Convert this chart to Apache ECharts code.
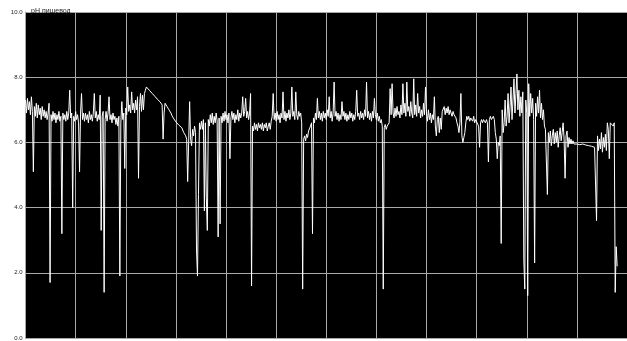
<!DOCTYPE html>
<html>
<head>
<meta charset="utf-8">
<title>pH пищевод</title>
<script src="https://cdn.jsdelivr.net/npm/echarts@6/dist/echarts.min.js"></script>
<style>
  html, body { margin: 0; padding: 0; background: #fff; }
  #chart { width: 627px; height: 341px; }
</style>
</head>
<body>
<div id="chart"></div>
<script>
// Esophageal pH recording, 51 readings per hour
const channelName = 'pH пищевод';
const samplesPerHour = 51;
const hourTicks = [0, 1, 2, 3, 4, 5, 6, 7, 8, 9, 10, 11, 12];
const phTicks = [0, 2, 4, 6, 8, 10];

const phValues = [
  // hour 0
  7.3, 6.9, 7.35, 7.0, 7.25, 6.85, 7.4, 6.95, 5.1, 7.1, 6.8, 7.2, 6.75, 7.15, 6.85, 7.05, 6.7, 7.1, 6.8, 7.0,
  6.75, 6.95, 6.7, 6.9, 7.2, 1.7, 6.85, 6.65, 6.95, 6.7, 6.9, 6.6, 6.85, 6.7, 6.95, 6.65, 6.8, 3.2, 6.9, 6.7,
  6.85, 6.65, 6.95, 6.7, 6.9, 7.6, 6.75, 6.9, 4.0, 6.8, 6.65, 6.95, 6.7, 6.85, 6.6, 5.1, 6.9, 7.5, 6.7, 6.9,
  // hour 1
  6.65, 6.9, 6.7, 6.85, 6.6, 6.95, 6.7, 6.85, 6.65, 6.9, 7.5, 6.75, 6.95, 6.65, 6.85, 6.7, 7.45, 3.3, 6.8, 6.95,
  1.4, 6.7, 6.95, 6.65, 6.9, 7.4, 6.7, 6.85, 6.6, 6.9, 6.7, 6.8, 6.55, 6.75, 6.5, 6.8, 1.9, 6.6, 7.25, 6.7,
  6.9, 5.2, 7.05, 6.85, 7.7, 6.95, 7.15, 6.9, 7.55, 7.0, 7.2, 6.9, 7.3, 7.0, 7.4, 4.9, 7.1, 7.5, 6.95, 7.45,
  // hour 2
  7.0, 7.5, 7.6, 7.7, 7.7, 7.65, 7.6, 7.58, 7.55, 7.5, 7.47, 7.44, 7.4, 7.36, 7.33, 7.3, 7.27, 7.24, 7.2, 7.15,
  6.1, 6.9, 7.2, 7.15, 7.1, 7.05, 7.0, 6.95, 6.9, 6.82, 6.78, 6.72, 6.68, 6.63, 6.6, 6.57, 6.53, 6.5, 6.47, 6.45,
  6.4, 6.3, 6.35, 6.2, 6.1, 4.8, 6.0, 7.25, 6.1, 5.9, 6.4, 6.2, 6.5, 6.3, 2.7, 1.9, 4.4, 6.6, 6.4, 6.65,
  // hour 3
  6.4, 6.7, 3.9, 6.6, 4.3, 3.3, 6.7, 6.5, 6.85, 6.6, 6.9, 6.55, 6.8, 6.6, 6.9, 6.65, 3.1, 6.75, 3.5, 6.8,
  6.6, 6.9, 6.65, 6.95, 6.7, 6.85, 6.6, 6.9, 5.5, 6.75, 6.95, 6.7, 6.9, 6.6, 6.85, 6.7, 7.0, 6.65, 6.9, 6.75,
  6.9, 7.4, 6.8, 6.95, 7.35, 6.75, 6.95, 6.7, 6.9, 7.5, 1.6, 6.5, 6.35, 6.6, 6.4, 6.55, 6.35, 6.6, 6.45, 6.55,
  // hour 4
  6.4, 6.6, 6.35, 6.55, 6.45, 6.6, 6.35, 6.5, 6.6, 6.4, 6.65, 6.8, 7.5, 6.7, 6.9, 6.65, 6.95, 6.7, 6.85, 6.6,
  6.9, 6.75, 7.55, 6.7, 6.95, 6.65, 6.9, 6.75, 7.0, 6.7, 6.9, 7.7, 6.8, 6.95, 6.7, 7.55, 6.85, 6.7, 6.95, 6.8,
  6.9, 6.6, 1.5, 6.1, 6.2, 6.05, 6.25, 6.15, 6.35, 6.3, 6.5, 6.6, 3.2, 6.75, 6.6, 6.9, 6.7, 7.35, 6.75, 6.95,
  // hour 5
  6.7, 6.9, 6.65, 6.95, 6.75, 6.9, 6.7, 7.0, 6.8, 7.4, 6.75, 6.95, 6.65, 6.9, 7.85, 6.8, 6.95, 6.7, 6.9, 6.65,
  6.85, 6.7, 7.25, 6.8, 6.95, 6.7, 6.9, 6.65, 6.85, 6.7, 6.95, 6.75, 6.9, 6.65, 6.85, 6.7, 6.95, 7.6, 6.8, 6.9,
  6.7, 6.95, 6.75, 6.9, 6.7, 7.0, 6.8, 7.85, 6.75, 6.95, 6.7, 6.9, 6.65, 6.95, 6.75, 7.35, 6.85, 6.7, 6.9, 6.65,
  // hour 6
  6.8, 6.6, 6.7, 6.5, 1.5, 6.45, 6.55, 6.4, 6.5, 6.45, 6.6, 7.65, 6.85, 7.8, 6.9, 6.75, 7.05, 6.8, 7.1, 6.85,
  6.95, 6.75, 7.15, 6.85, 7.8, 6.9, 7.2, 6.8, 7.85, 6.95, 7.1, 6.8, 7.25, 6.9, 6.75, 7.95, 6.85, 7.15, 6.8, 7.5,
  6.9, 7.1, 6.75, 7.0, 6.8, 7.2, 6.85, 7.7, 6.9, 6.65, 7.0, 6.7, 6.9, 6.6, 6.85, 6.7, 7.4, 6.5, 6.2, 6.7,
  // hour 7
  6.8, 6.3, 6.75, 6.4, 6.95, 7.0, 7.1, 6.85, 7.05, 6.9, 7.1, 6.85, 7.0, 7.05, 6.8, 6.95, 6.85, 6.8, 6.75, 6.6,
  6.5, 6.3, 6.6, 7.5, 6.2, 6.0, 6.15, 6.3, 6.6, 6.8, 6.7, 6.8, 6.65, 6.75, 6.7, 6.65, 6.8, 6.6, 6.7, 6.65,
  6.7, 6.5, 5.85, 6.6, 6.7, 6.6, 6.7, 6.65, 6.6, 6.7, 6.6, 5.4, 6.7, 6.8, 6.7, 6.75, 6.8, 6.7, 6.3, 6.1,
  // hour 8
  5.5, 6.0, 5.9, 6.2, 2.9, 7.0, 6.3, 6.6, 7.3, 6.5, 6.8, 7.5, 6.6, 7.1, 7.7, 6.7, 7.3, 7.95, 6.9, 7.5,
  8.1, 7.0, 7.6, 6.8, 7.4, 6.9, 7.55, 2.4, 1.5, 7.3, 6.9, 1.3, 7.8, 6.8, 7.5, 6.9, 7.35, 6.7, 2.3, 7.2,
  6.8, 7.4, 6.9, 7.6, 6.75, 7.2, 6.7, 7.0, 6.5, 6.4, 6.45, 4.4, 6.3, 6.0, 6.35, 5.9, 6.2, 6.4, 5.95, 6.3,
  // hour 9
  6.0, 6.35, 5.85, 6.2, 6.45, 6.05, 6.3, 6.6, 6.1, 4.9, 6.2, 6.35, 5.85, 6.15, 5.95, 6.1, 5.95, 6.05, 5.95, 6.0,
  5.98, 5.95, 5.97, 5.95, 5.93, 5.95, 5.92, 5.95, 5.93, 5.9, 5.92, 5.9, 5.88, 5.9, 5.87, 5.85, 5.88, 5.85, 5.87, 5.85,
  5.9, 3.6, 6.2, 5.75, 6.1, 5.8, 6.3, 5.7, 6.15, 5.85, 6.25, 5.75, 6.6, 6.4, 5.5, 6.6, 6.55, 6.65, 6.5, 6.6,
  // hour 10 (partly visible)
  1.4, 2.8, 2.2
];

const seriesData = phValues.map((v, i) => [i / samplesPerHour, v]);

const gridColor = '#a8a8a8';
const labelFont = 'Liberation Sans';

const chart = echarts.init(document.getElementById('chart'), null, { renderer: 'canvas' });

chart.setOption({
  animation: false,
  backgroundColor: '#ffffff',
  title: {
    text: channelName,
    left: 26,
    top: 3,
    textStyle: {
      fontFamily: labelFont,
      fontSize: 7,
      fontWeight: 'normal',
      color: '#222'
    }
  },
  grid: {
    left: 25.5,
    top: 12,
    width: 612,
    height: 327,
    show: true,
    backgroundColor: '#000000',
    borderWidth: 0
  },
  xAxis: {
    type: 'value',
    min: hourTicks[0],
    max: hourTicks[hourTicks.length - 1],
    interval: 1,
    axisLabel: { show: false },
    axisTick: { show: false },
    axisLine: { show: true, lineStyle: { color: gridColor, width: 1 } },
    splitLine: { show: true, lineStyle: { color: gridColor, width: 1 } }
  },
  yAxis: {
    type: 'value',
    min: phTicks[0],
    max: phTicks[phTicks.length - 1],
    interval: 2,
    axisTick: { show: false },
    axisLine: { show: true, lineStyle: { color: gridColor, width: 1 } },
    splitLine: { show: true, lineStyle: { color: gridColor, width: 1 } },
    axisLabel: {
      margin: 3,
      fontFamily: labelFont,
      fontSize: 6,
      color: '#222',
      formatter: v => v.toFixed(1)
    }
  },
  series: [{
    type: 'line',
    data: seriesData,
    showSymbol: false,
    symbol: 'none',
    clip: true,
    lineStyle: { color: '#ffffff', width: 1 }
  }]
});
</script>
</body>
</html>
